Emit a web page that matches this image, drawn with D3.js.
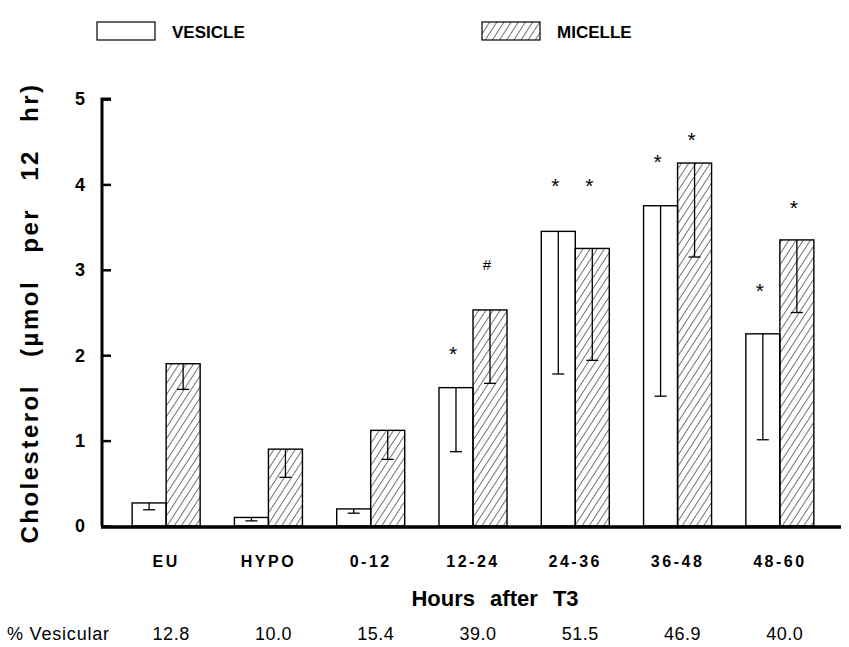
<!DOCTYPE html>
<html>
<head>
<meta charset="utf-8">
<script src="https://cdn.jsdelivr.net/npm/d3@7/dist/d3.min.js"></script>
<style>
  body { margin: 0; background: #fff; }
  text { font-family: "Liberation Sans", Arial, sans-serif; fill: #000; }
</style>
</head>
<body>
<svg id="chart" width="849" height="647"></svg>
<script>
// dữ liệu
const groups = ["EU", "HYPO", "0-12", "12-24", "24-36", "36-48", "48-60"];
const vesicle = [0.27, 0.1, 0.2, 1.62, 3.45, 3.75, 2.25];
const vesicleErr = [0.19, 0.06, 0.15, 0.87, 1.78, 1.52, 1.01];
const micelle = [1.9, 0.9, 1.12, 2.53, 3.25, 4.25, 3.35];
const micelleErr = [1.6, 0.57, 0.78, 1.67, 1.94, 3.15, 2.5];
const pctVesicular = ["12.8", "10.0", "15.4", "39.0", "51.5", "46.9", "40.0"];
const yTicks = [0, 1, 2, 3, 4, 5];
// dấu ý nghĩa: nhóm, loại, vị trí (đơn vị trục y)
const marks = [
  {g: "12-24", s: "vesicle", sym: "*", v: 2.02},
  {g: "12-24", s: "micelle", sym: "#", v: 3.06},
  {g: "24-36", s: "vesicle", sym: "*", v: 3.99},
  {g: "24-36", s: "micelle", sym: "*", v: 3.99},
  {g: "36-48", s: "vesicle", sym: "*", v: 4.27},
  {g: "36-48", s: "micelle", sym: "*", v: 4.53},
  {g: "48-60", s: "vesicle", sym: "*", v: 2.76},
  {g: "48-60", s: "micelle", sym: "*", v: 3.73}
];

const svg = d3.select("#chart");
const x0 = 102, yBase = 526, yTop = 99;

const defs = svg.append("defs");
defs.append("pattern")
  .attr("id", "hatch")
  .attr("patternUnits", "userSpaceOnUse")
  .attr("width", 6).attr("height", 6)
  .attr("patternTransform", "rotate(33)")
  .append("line")
    .attr("x1", 0).attr("y1", -2).attr("x2", 0).attr("y2", 8)
    .attr("stroke", "#000").attr("stroke-width", 1.1);

const x = d3.scaleBand()
  .domain(groups)
  .range([115, 831])
  .paddingInner(0.335)
  .paddingOuter(0.1675);

const xs = d3.scaleBand()
  .domain(["vesicle", "micelle"])
  .range([0, x.bandwidth()]);

const y = d3.scaleLinear().domain([0, 5]).range([yBase, yTop]);

const rows = groups.map((g, i) => [
  {g, s: "vesicle", v: vesicle[i], lo: vesicleErr[i]},
  {g, s: "micelle", v: micelle[i], lo: micelleErr[i]}
]).flat();

// cột
svg.append("g").selectAll("rect")
  .data(rows)
  .join("rect")
    .attr("x", d => x(d.g) + xs(d.s))
    .attr("y", d => y(d.v))
    .attr("width", xs.bandwidth())
    .attr("height", d => yBase - y(d.v))
    .attr("fill", d => d.s === "micelle" ? "url(#hatch)" : "#fff")
    .attr("stroke", "#000")
    .attr("stroke-width", 1.4);

// thanh sai số (chỉ nửa dưới)
const eb = svg.append("g").attr("stroke", "#000").attr("stroke-width", 1.3);
rows.forEach(d => {
  const cx = x(d.g) + xs(d.s) + xs.bandwidth() / 2;
  eb.append("line").attr("x1", cx).attr("x2", cx).attr("y1", y(d.v)).attr("y2", y(d.lo));
  eb.append("line").attr("x1", cx - 6).attr("x2", cx + 6).attr("y1", y(d.lo)).attr("y2", y(d.lo));
});

// dấu *
svg.append("g").selectAll("text")
  .data(marks)
  .join("text")
    .attr("x", d => x(d.g) + xs(d.s) + xs.bandwidth() / 2 - 3)
    .attr("y", d => y(d.v) + (d.sym === "*" ? 8 : 5))
    .attr("text-anchor", "middle")
    .style("font-size", d => d.sym === "*" ? "21px" : "15px")
    .text(d => d.sym);

// trục Y
const yAxis = svg.append("g").attr("transform", `translate(${x0},0)`)
  .call(d3.axisRight(y).tickValues(yTicks).tickSize(9).tickFormat(""));
yAxis.select(".domain").attr("d", `M9,${yTop}H0V${yBase}`).attr("stroke-width", 3);
yAxis.selectAll(".tick line").attr("stroke-width", 2.5);

svg.append("g").selectAll("text")
  .data(yTicks)
  .join("text")
    .attr("x", 80)
    .attr("y", d => y(d))
    .attr("dy", "0.36em")
    .attr("text-anchor", "middle")
    .style("font-size", "18px")
    .style("font-weight", "bold")
    .text(d => d);

// trục X
svg.append("line")
  .attr("x1", x0 - 1).attr("x2", 841)
  .attr("y1", yBase + 1).attr("y2", yBase + 1)
  .attr("stroke", "#000").attr("stroke-width", 3.5);

svg.append("g").selectAll("text")
  .data(groups)
  .join("text")
    .attr("x", d => x(d) + x.bandwidth() / 2)
    .attr("y", 567)
    .attr("text-anchor", "middle")
    .style("font-size", "16px")
    .style("font-weight", "bold")
    .style("letter-spacing", "2.5px")
    .text(d => d);

// tên trục
svg.append("text")
  .attr("x", 495).attr("y", 606)
  .attr("text-anchor", "middle")
  .style("font-size", "22px")
  .style("font-weight", "bold")
  .style("word-spacing", "9px")
  .text("Hours after T3");

svg.append("text")
  .attr("transform", "translate(38,313) rotate(-90)")
  .attr("text-anchor", "middle")
  .style("font-size", "24px")
  .style("font-weight", "bold")
  .style("letter-spacing", "2.5px")
  .style("word-spacing", "18px")
  .text("Cholesterol (µmol per 12 hr)");

// % Vesicular
svg.append("text")
  .attr("x", 7).attr("y", 640)
  .style("font-size", "18px")
  .style("letter-spacing", "0.8px")
  .text("% Vesicular");
svg.append("g").selectAll("text")
  .data(pctVesicular)
  .join("text")
    .attr("x", (d, i) => x(groups[i]) + x.bandwidth() / 2 + 5)
    .attr("y", 640)
    .attr("text-anchor", "middle")
    .style("font-size", "18px")
    .style("letter-spacing", "0.5px")
    .text(d => d);

// chú giải
const legend = [
  {label: "VESICLE", fill: "#fff", x: 97},
  {label: "MICELLE", fill: "url(#hatch)", x: 482}
];
const lg = svg.append("g").selectAll("g").data(legend).join("g")
  .attr("transform", d => `translate(${d.x},22)`);
lg.append("rect").attr("width", 58).attr("height", 18)
  .attr("fill", d => d.fill).attr("stroke", "#000").attr("stroke-width", 1.2);
lg.append("text").attr("x", 75).attr("y", 16)
  .style("font-size", "17px").style("font-weight", "bold")
  .text(d => d.label);
</script>
</body>
</html>
